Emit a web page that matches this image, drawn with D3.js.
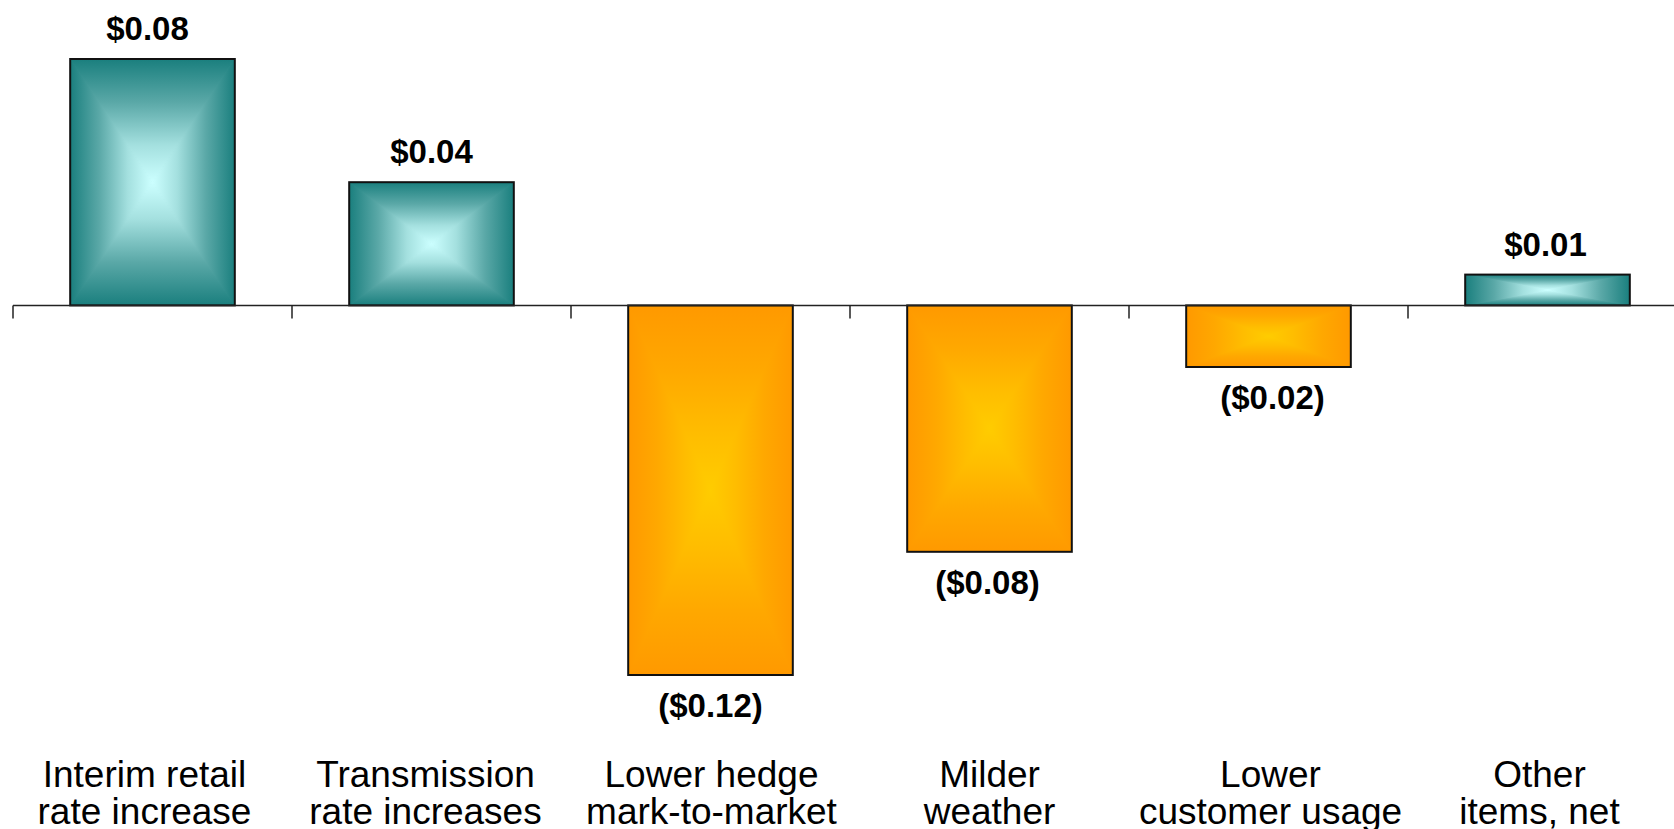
<!DOCTYPE html>
<html>
<head>
<meta charset="utf-8">
<script src="https://cdn.jsdelivr.net/npm/d3@7"></script>
<style>
  html, body { margin: 0; padding: 0; background: #ffffff; overflow: hidden; }
  svg { display: block; }
</style>
</head>
<body>
<svg id="chart" width="1674" height="829"></svg>
<script>
// ---- data ----
const categories = [
  ["Interim retail", "rate increase"],
  ["Transmission", "rate increases"],
  ["Lower hedge", "mark-to-market"],
  ["Milder", "weather"],
  ["Lower", "customer usage"],
  ["Other", "items, net"]
];
const values = [0.08, 0.04, -0.12, -0.08, -0.02, 0.01];
const valueLabels = ["$0.08", "$0.04", "($0.12)", "($0.08)", "($0.02)", "$0.01"];

// ---- layout (label nudges, px) ----
const catNudge = [-8, -6, 1, 0, 2, -8];
const valueNudge = [-5, 0, 0, -2, 4, -2];

const W = 1674, H = 829;
const svg = d3.select("#chart");
const keys = categories.map((c, i) => "c" + i);

const x = d3.scaleBand()
  .domain(keys)
  .range([13, 13 + 6 * 279])
  .paddingInner(0.41)
  .paddingOuter(0.205);

const y = d3.scaleLinear()
  .domain([-0.12, 0.08])
  .range([675, 59]);

const y0 = y(0);

// ---- gradients (rectangular "from centre" shading made of 4 triangles) ----
const defs = svg.append("defs");
const palettes = {
  pos: ["#1a7f7e", "#5aa8a7", "#a4e0df", "#ccffff"],
  neg: ["#ff9900", "#ffa800", "#ffbd00", "#ffcc00"]
};
const dirs = {
  top:    {x1: 0, y1: 0, x2: 0, y2: 1},
  bottom: {x1: 0, y1: 1, x2: 0, y2: 0},
  left:   {x1: 0, y1: 0, x2: 1, y2: 0},
  right:  {x1: 1, y1: 0, x2: 0, y2: 0}
};
Object.entries(palettes).forEach(([pk, cols]) => {
  Object.entries(dirs).forEach(([dk, d]) => {
    const g = defs.append("linearGradient")
      .attr("id", `g-${pk}-${dk}`)
      .attr("x1", d.x1).attr("y1", d.y1).attr("x2", d.x2).attr("y2", d.y2);
    const offs = [0, 0.35, 0.7, 1];
    cols.forEach((c, i) => g.append("stop").attr("offset", offs[i]).attr("stop-color", c));
  });
});

// ---- bars ----
const bars = svg.append("g").selectAll("g.bar")
  .data(values.map((v, i) => ({v, i, key: keys[i]})))
  .join("g").attr("class", "bar");

bars.each(function(d) {
  const g = d3.select(this);
  const x0 = x(d.key), bw = x.bandwidth();
  const yt = Math.min(y(d.v), y0), yb = Math.max(y(d.v), y0);
  const h = yb - yt;
  const cx = x0 + bw / 2, cy = yt + h / 2;
  const pk = d.v >= 0 ? "pos" : "neg";
  const clipId = "clip" + d.i;
  defs.append("clipPath").attr("id", clipId)
    .append("rect").attr("x", x0).attr("y", yt).attr("width", bw).attr("height", h);
  const inner = g.append("g").attr("clip-path", `url(#${clipId})`);
  inner.append("rect").attr("x", x0).attr("y", yt).attr("width", bw).attr("height", h)
    .attr("fill", palettes[pk][1]);
  const tris = {
    top:    [[x0, yt], [x0 + bw, yt], [cx, cy]],
    bottom: [[x0, yb], [x0 + bw, yb], [cx, cy]],
    left:   [[x0, yt], [x0, yb], [cx, cy]],
    right:  [[x0 + bw, yt], [x0 + bw, yb], [cx, cy]]
  };
  Object.entries(tris).forEach(([k, pts]) => {
    inner.append("path")
      .attr("d", "M" + pts.map(p => p.join(",")).join("L") + "Z")
      .attr("fill", `url(#g-${pk}-${k})`)
      .attr("stroke", `url(#g-${pk}-${k})`)
      .attr("stroke-width", 1)
      .attr("stroke-linejoin", "round");
  });
  g.append("rect").attr("x", x0).attr("y", yt).attr("width", bw).attr("height", h)
    .attr("fill", "none").attr("stroke", "#111").attr("stroke-width", 2);
});

// ---- axis line with ticks at category boundaries ----
const axisG = svg.append("g");
axisG.append("line")
  .attr("x1", x.range()[0]).attr("x2", W)
  .attr("y1", y0).attr("y2", y0)
  .attr("stroke", "#222").attr("stroke-width", 1.5);
keys.forEach((k, i) => {
  const bx = x.range()[0] + i * x.step();
  axisG.append("line")
    .attr("x1", bx).attr("x2", bx)
    .attr("y1", y0).attr("y2", y0 + 13)
    .attr("stroke", "#222").attr("stroke-width", 1.5);
});

// ---- value labels ----
svg.append("g").selectAll("text")
  .data(values.map((v, i) => ({v, i, key: keys[i]})))
  .join("text")
  .attr("x", d => x(d.key) + x.bandwidth() / 2 + valueNudge[d.i])
  .attr("y", d => d.v >= 0 ? y(d.v) - 19 : y(d.v) + 42)
  .attr("text-anchor", "middle")
  .attr("font-family", "'Liberation Sans', Arial, sans-serif")
  .attr("font-weight", "bold")
  .attr("font-size", 33)
  .attr("fill", "#000")
  .text(d => valueLabels[d.i]);

// ---- category labels ----
const catG = svg.append("g");
categories.forEach((lines, i) => {
  const cxl = x(keys[i]) + x.bandwidth() / 2 + catNudge[i];
  const t = catG.append("text")
    .attr("x", cxl)
    .attr("y", 787)
    .attr("text-anchor", "middle")
    .attr("font-family", "'Liberation Sans', Arial, sans-serif")
    .attr("font-size", 37)
    .attr("fill", "#000");
  lines.forEach((ln, j) => {
    t.append("tspan")
      .attr("x", cxl)
      .attr("y", 787 + j * 37)
      .text(ln);
  });
});
</script>
</body>
</html>
